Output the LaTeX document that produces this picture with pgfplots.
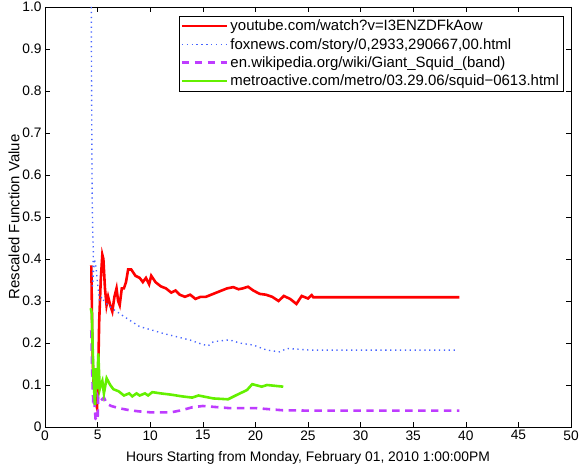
\documentclass[border=0pt]{standalone}
\usepackage{fontspec}
\setmainfont{Liberation Sans}
\usepackage{pgfplots}
\pgfplotsset{compat=1.18}

\definecolor{ytred}{RGB}{255,0,0}
\definecolor{foxblue}{RGB}{70,100,255}
\definecolor{wikipurple}{RGB}{190,60,255}
\definecolor{metrogreen}{RGB}{100,240,0}

\pgfplotstableread{
x y
4.40 0.385
4.45 0.30
4.50 0.20
4.60 0.11
4.80 0.06
4.95 0.045
5.05 0.12
5.15 0.25
5.30 0.35
5.45 0.41
5.55 0.40
5.70 0.33
5.85 0.29
6.00 0.31
6.20 0.29
6.40 0.275
6.60 0.31
6.80 0.33
6.95 0.30
7.10 0.29
7.30 0.33
7.50 0.33
7.70 0.345
7.90 0.375
8.20 0.375
8.60 0.36
9.00 0.355
9.30 0.345
9.60 0.355
9.90 0.34
10.10 0.36
10.50 0.345
11.00 0.335
11.50 0.33
12.00 0.32
12.40 0.325
12.80 0.315
13.30 0.31
13.80 0.315
14.30 0.305
14.80 0.31
15.30 0.31
15.80 0.315
16.30 0.32
16.80 0.325
17.30 0.33
17.90 0.333
18.40 0.328
18.80 0.33
19.30 0.334
19.80 0.325
20.40 0.317
21.00 0.315
21.60 0.31
22.20 0.30
22.70 0.312
23.30 0.305
23.90 0.293
24.40 0.312
25.00 0.306
25.35 0.314
25.50 0.309
39.40 0.309
}\youtube

\pgfplotstableread{
x y
4.40 1.00
4.42 0.85
4.45 0.70
4.48 0.55
4.55 0.45
4.60 0.42
4.50 0.33
4.70 0.40
4.85 0.38
5.00 0.34
5.20 0.30
5.40 0.31
5.60 0.30
6.00 0.29
6.50 0.28
7.10 0.27
8.00 0.255
9.00 0.239
10.00 0.232
11.20 0.223
12.50 0.215
13.80 0.207
14.70 0.199
15.50 0.193
16.00 0.203
17.30 0.207
17.60 0.207
18.50 0.200
19.80 0.195
21.10 0.183
22.30 0.179
23.00 0.187
24.20 0.185
25.20 0.183
39.30 0.183
}\foxnews

\pgfplotstableread{
x y
4.40 0.23
4.50 0.12
4.60 0.05
4.70 0.06
4.80 0.02
5.00 0.015
5.05 0.07
5.20 0.06
5.40 0.065
5.60 0.07
5.90 0.055
6.30 0.05
7.00 0.045
8.00 0.04
9.00 0.037
10.00 0.035
12.00 0.035
13.00 0.04
14.00 0.047
15.00 0.05
16.00 0.048
17.50 0.045
20.00 0.045
22.50 0.04
25.00 0.039
39.40 0.039
}\wiki

\pgfplotstableread{
x y
4.35 0.283
4.45 0.27
4.60 0.12
4.75 0.052
4.85 0.14
4.95 0.09
5.07 0.175
5.20 0.09
5.30 0.10
5.45 0.11
5.60 0.08
5.86 0.116
6.20 0.10
6.50 0.09
7.00 0.085
7.50 0.075
8.00 0.08
8.30 0.073
8.70 0.08
9.00 0.075
9.50 0.08
9.80 0.075
10.20 0.083
11.00 0.08
12.00 0.077
13.00 0.073
14.00 0.07
14.60 0.075
16.00 0.068
17.40 0.066
18.20 0.076
19.20 0.088
19.70 0.102
20.60 0.096
21.10 0.100
22.65 0.096
}\metro

\begin{document}
\begin{tikzpicture}
\begin{axis}[
  scale only axis, width=526bp, height=420bp,
  xmin=0, xmax=50, ymin=0, ymax=1,
  xtick={0,5,...,50},
  ytick={0,0.1,...,1.0},
  yticklabels={0,0.1,0.2,0.3,0.4,0.5,0.6,0.7,0.8,0.9,1.0},
  /pgf/number format/assume math mode=true,
  tick align=inside, major tick length=5bp,
  tick style={black, line width=0.5pt},
  axis line style={line width=0.6pt},
  xlabel={Hours Starting from Monday, February 01, 2010 1:00:00PM},
  ylabel={Rescaled Function Value},
  xlabel style={font=\fontsize{13.9}{16}\selectfont, yshift=-4bp},
  ylabel style={font=\fontsize{15}{17}\selectfont, yshift=-4bp},
  tick label style={font=\fontsize{13.8}{16}\selectfont},
  legend cell align=left,
  legend style={at={(1,1)}, anchor=north east, xshift=-8bp, yshift=-9bp,
    draw=black, font=\fontsize{15}{17}\selectfont,
    row sep=2bp, inner sep=1.8bp},
  legend image code/.code={\draw[#1] (0cm,0cm) -- (1.6cm,0cm);},
]
\addplot[ytred, line width=2.6pt] table {\youtube};
\addlegendentry{youtube.com/watch?v=I3ENZDFkAow}
\addplot[foxblue, line width=1.4pt, dash pattern=on 1.3pt off 3.6pt] table {\foxnews};
\addlegendentry{foxnews.com/story/0,2933,290667,00.html}
\addplot[wikipurple, line width=2.6pt, dash pattern=on 7.5pt off 5.5pt] table {\wiki};
\addlegendentry{en.wikipedia.org/wiki/Giant\_Squid\_(band)}
\addplot[metrogreen, line width=2.6pt] table {\metro};
\addlegendentry{metroactive.com/metro/03.29.06/squid−0613.html}
\end{axis}
\pgfresetboundingbox
\path[use as bounding box] ([shift={(-45bp,-41bp)}]current axis.south west) rectangle ([shift={(11bp,7bp)}]current axis.north east);
\end{tikzpicture}
\end{document}
